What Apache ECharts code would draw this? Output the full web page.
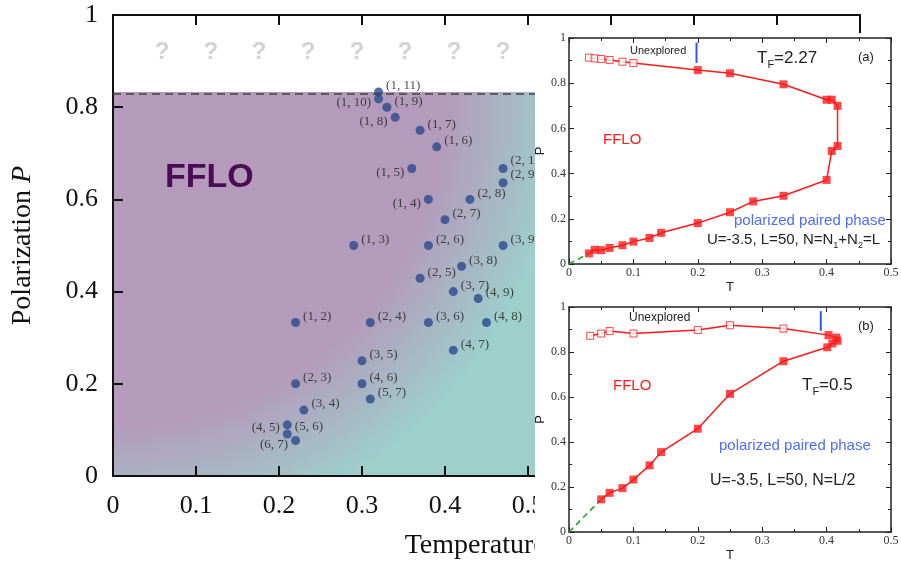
<!DOCTYPE html>
<html>
<head>
<meta charset="utf-8">
<script src="https://cdn.jsdelivr.net/npm/echarts@6/dist/echarts.min.js"></script>
<style>
  html, body { margin: 0; padding: 0; background: #fff; }
  #chart { width: 901px; height: 562px; }
</style>
</head>
<body>
<div id="chart"></div>
<script>
// main diagram: labelled (n, m) points
const pointNames = ['(1, 11)', '(1, 10)', '(1, 9)', '(1, 8)', '(1, 7)', '(1, 6)', '(1, 5)', '(1, 4)', '(1, 3)', '(1, 2)',
    '(2, 10)', '(2, 9)', '(2, 8)', '(2, 7)', '(2, 6)', '(2, 5)', '(2, 4)', '(2, 3)',
    '(3, 9)', '(3, 8)', '(3, 7)', '(3, 6)', '(3, 5)', '(3, 4)',
    '(4, 9)', '(4, 8)', '(4, 7)', '(4, 6)', '(4, 5)', '(5, 7)', '(5, 6)', '(6, 7)'];
const pointT = [0.32, 0.32, 0.33, 0.34, 0.37, 0.39, 0.36, 0.38, 0.29, 0.22,
    0.47, 0.47, 0.43, 0.40, 0.38, 0.37, 0.31, 0.22,
    0.47, 0.42, 0.41, 0.38, 0.30, 0.23,
    0.44, 0.45, 0.41, 0.30, 0.21, 0.31, 0.21, 0.22];
const pointP = [0.833, 0.818, 0.8, 0.778, 0.75, 0.714, 0.667, 0.6, 0.5, 0.333,
    0.667, 0.636, 0.6, 0.556, 0.5, 0.429, 0.333, 0.2,
    0.5, 0.455, 0.4, 0.333, 0.25, 0.143,
    0.385, 0.333, 0.273, 0.2, 0.111, 0.167, 0.091, 0.077];
const boundaryP = 0.833;
const questionT = [0.059, 0.118, 0.176, 0.235, 0.294, 0.352, 0.411, 0.47];
const questionP = 0.92;

// inset (a): T_F = 2.27
const aOpenT = [0.031, 0.04, 0.05, 0.063, 0.083, 0.1];
const aOpenP = [0.913, 0.91, 0.907, 0.903, 0.895, 0.889];
const aFilledT = [0.2, 0.25, 0.333, 0.4, 0.408, 0.417, 0.417, 0.408, 0.4, 0.333, 0.286, 0.25, 0.2, 0.143, 0.125, 0.1, 0.083, 0.063, 0.05, 0.04, 0.031];
const aFilledP = [0.858, 0.844, 0.795, 0.727, 0.727, 0.7, 0.522, 0.5, 0.372, 0.302, 0.277, 0.229, 0.181, 0.138, 0.115, 0.099, 0.083, 0.071, 0.061, 0.063, 0.047];
const aGuideT = [0, 0.031];
const aGuideP = [0, 0.047];
const aMarkT = [0.198, 0.198];
const aMarkP = [0.98, 0.89];

// inset (b): T_F = 0.5
const bOpenT = [0.033, 0.05, 0.063, 0.1, 0.2, 0.25, 0.333];
const bOpenP = [0.872, 0.882, 0.893, 0.882, 0.898, 0.919, 0.904];
const bFilledT = [0.403, 0.415, 0.417, 0.409, 0.401, 0.333, 0.25, 0.2, 0.143, 0.125, 0.1, 0.083, 0.063, 0.05];
const bFilledP = [0.875, 0.864, 0.85, 0.838, 0.821, 0.759, 0.614, 0.459, 0.355, 0.296, 0.233, 0.195, 0.174, 0.145];
const bGuideT = [0, 0.05];
const bGuideP = [0, 0.145];
const bMarkT = [0.391, 0.391];
const bMarkP = [0.982, 0.894];

// label placement for the main points (default: right, a bit up)
const labelLeft = {'(1, 10)': 4, '(1, 8)': 4, '(1, 5)': 4, '(1, 4)': 4, '(4, 5)': 3, '(6, 7)': 4};
const labelUp = {'(2, 9)': -8, '(2, 10)': -8, '(5, 6)': -7};

const serif = '"Liberation Serif", "Times New Roman", serif';
const sans = '"Liberation Sans", Arial, sans-serif';
const purple = '#b49abb';
const teal = '#9dcfcb';
const ink = '#111';

const zip = (xs, ys) => xs.map((x, i) => [x, ys[i]]);

const chart = echarts.init(document.getElementById('chart'));

const mainPoints = pointNames.map((name, i) => {
    const left = labelLeft[name];
    return {
        name,
        value: [pointT[i], pointP[i]],
        label: left !== undefined
            ? {position: 'left', offset: [0, left]}
            : {position: 'right', offset: [0, labelUp[name] !== undefined ? labelUp[name] : -6]},
    };
});

const fmt = (v) => String(+v.toFixed(2));

const mainAxisCommon = {
    type: 'value',
    gridIndex: 0,
    z: 3,
    axisLine: {show: true, onZero: false, lineStyle: {color: ink, width: 2}},
    axisTick: {show: true, inside: true, length: 10, lineStyle: {color: ink, width: 2}},
    splitLine: {show: false},
};
const titleRich = {
    n: {fontFamily: serif, fontSize: 28, color: ink},
    i: {fontFamily: serif, fontSize: 28, color: ink, fontStyle: 'italic'},
};

const insetAxes = (g) => {
    const common = {
        type: 'value',
        gridIndex: g,
        z: 20,
        axisLine: {show: true, onZero: false, lineStyle: {color: '#222', width: 1.5}},
        axisTick: {show: true, inside: true, length: 5, lineStyle: {color: '#222'}},
        minorTick: {show: true, splitNumber: 2, length: 3, lineStyle: {color: '#222'}},
        splitLine: {show: false},
        minorSplitLine: {show: false},
    };
    const lab = {fontFamily: serif, fontSize: 12, color: '#333'};
    return {
        x: [
            {...common, min: 0, max: 0.5, interval: 0.1, position: 'bottom',
                axisLabel: {...lab, margin: 3, formatter: fmt},
                name: 'T', nameLocation: 'middle', nameGap: 17,
                nameTextStyle: {fontFamily: sans, fontSize: 13, color: '#222'}},
            {...common, min: 0, max: 0.5, interval: 0.1, position: 'top', axisLabel: {show: false}},
        ],
        y: [
            {...common, min: 0, max: 1, interval: 0.2, position: 'left',
                axisLabel: {...lab, margin: 3, formatter: fmt},
                name: 'P', nameLocation: 'middle', nameGap: 20,
                nameTextStyle: {fontFamily: sans, fontSize: 13, color: '#222'}},
            {...common, min: 0, max: 1, interval: 0.2, position: 'right', axisLabel: {show: false}},
        ],
    };
};
const axA = insetAxes(1);
const axB = insetAxes(2);

const insetSeries = (xi, yi, openT, openP, filledT, filledP, guideT, guideP, markT, markP) => [
    {
        type: 'line', xAxisIndex: xi, yAxisIndex: yi, z: 20,
        data: zip(openT, openP).concat(zip(filledT, filledP)),
        showSymbol: false, lineStyle: {color: '#ff1a1a', width: 1.5},
    },
    {
        type: 'line', xAxisIndex: xi, yAxisIndex: yi, z: 20,
        data: zip(guideT, guideP), showSymbol: false,
        lineStyle: {color: '#20a020', width: 1.5, type: [6, 4]},
    },
    {
        type: 'line', xAxisIndex: xi, yAxisIndex: yi, z: 20,
        data: zip(markT, markP), showSymbol: false,
        lineStyle: {color: '#3355ee', width: 2},
    },
    {
        type: 'scatter', xAxisIndex: xi, yAxisIndex: yi, z: 21,
        data: zip(openT, openP), symbol: 'rect', symbolSize: 7,
        itemStyle: {color: '#fff', borderColor: '#ff1a1a', borderWidth: 1},
    },
    {
        type: 'scatter', xAxisIndex: xi, yAxisIndex: yi, z: 21,
        data: zip(filledT, filledP), symbol: 'rect', symbolSize: 8,
        itemStyle: {color: '#ff1a1a'},
    },
];

const txt = (text, left, top, font, fill, rich) => ({
    type: 'text', left, top, z: 30,
    style: {text, font, fill, rich},
});
const subRich = (size) => ({
    m: {fontFamily: sans, fontSize: size, lineHeight: size + 6, fill: '#222', color: '#222'},
    s: {fontFamily: sans, fontSize: Math.round(size * 0.62), lineHeight: Math.round(size * 0.62), verticalAlign: 'bottom', fill: '#222', color: '#222'},
});

const option = {
    animation: false,
    backgroundColor: '#fff',
    grid: [
        {left: 113, top: 15, right: 41, bottom: 86, outerBoundsMode: 'none'},
        {left: 569, top: 38, right: 10, bottom: 298, outerBoundsMode: 'none'},
        {left: 569, top: 307, right: 10, bottom: 30, outerBoundsMode: 'none'},
    ],
    xAxis: [
        {...mainAxisCommon, min: 0, max: 0.9, interval: 0.1, position: 'bottom',
            axisLabel: {fontFamily: serif, fontSize: 26, color: ink, margin: 17, formatter: fmt},
            name: '{n|Temperature }{i|T}', nameLocation: 'middle', nameGap: 56,
            nameTextStyle: {rich: titleRich}},
        {...mainAxisCommon, min: 0, max: 0.9, interval: 0.1, position: 'top', axisLabel: {show: false}},
        ...axA.x,
        ...axB.x,
    ],
    yAxis: [
        {...mainAxisCommon, min: 0, max: 1, interval: 0.2, position: 'left',
            axisLabel: {fontFamily: serif, fontSize: 26, color: ink, margin: 15, formatter: fmt},
            name: '{n|Polarization }{i|P}', nameLocation: 'middle', nameGap: 76,
            nameTextStyle: {rich: titleRich}},
        {...mainAxisCommon, min: 0, max: 1, interval: 0.2, position: 'right', axisLabel: {show: false}},
        ...axA.y,
        ...axB.y,
    ],
    series: [
        {
            type: 'scatter', xAxisIndex: 0, yAxisIndex: 0, z: 2,
            data: mainPoints,
            symbolSize: 9,
            itemStyle: {color: '#2b4a8e'},
            label: {show: true, formatter: '{b}', distance: 3, fontFamily: serif, fontSize: 13, color: '#222'},
            markArea: {
                silent: true,
                itemStyle: {
                    color: {
                        type: 'radial', x: 0, y: 0, r: 1.2,
                        colorStops: [
                            {offset: 0, color: purple},
                            {offset: 0.72, color: purple},
                            {offset: 0.98, color: teal},
                            {offset: 1, color: teal},
                        ],
                    },
                },
                data: [[{coord: [0, 0]}, {coord: [0.9, boundaryP]}]],
            },
            markLine: {
                silent: true, symbol: 'none', label: {show: false},
                lineStyle: {color: '#444', width: 1.5, type: [8, 5]},
                data: [{yAxis: boundaryP}],
            },
        },
        {
            type: 'scatter', xAxisIndex: 0, yAxisIndex: 0, z: 2,
            data: questionT.map(t => [t, questionP]),
            symbolSize: 0,
            label: {show: true, position: 'inside', formatter: '?', fontFamily: sans, fontWeight: 'bold', fontSize: 24, color: '#c8c8c8'},
        },
        ...insetSeries(2, 2, aOpenT, aOpenP, aFilledT, aFilledP, aGuideT, aGuideP, aMarkT, aMarkP),
        ...insetSeries(4, 4, bOpenT, bOpenP, bFilledT, bFilledP, bGuideT, bGuideP, bMarkT, bMarkP),
    ],
    graphic: [
        // white panel holding the two insets
        {type: 'rect', left: 535, top: 33, z: 10, shape: {width: 366, height: 529}, style: {fill: '#fff'}},
        {type: 'text', left: 165, top: 161, z: 5,
            style: {text: 'FFLO', font: 'bold 34px ' + sans, fill: '#4b0b58'}},
        txt('Unexplored', 630, 45, '11px ' + sans, '#222'),
        txt('{m|T}{s|F}{m|=2.27}', 757, 50, '17px ' + sans, '#222', subRich(17)),
        txt('(a)', 858, 51, '13px ' + sans, '#222'),
        txt('FFLO', 603, 132, '15px ' + sans, '#ff1a1a'),
        txt('polarized paired phase', 734, 213, '15px ' + sans, '#4e6ef5'),
        txt('{m|U=-3.5, L=50, N=N}{s|1}{m|+N}{s|2}{m|=L}', 707, 232, '15px ' + sans, '#222', subRich(15)),
        txt('Unexplored', 629, 312, '12px ' + sans, '#222'),
        txt('(b)', 858, 320, '13px ' + sans, '#222'),
        txt('FFLO', 613, 378, '15px ' + sans, '#ff1a1a'),
        txt('{m|T}{s|F}{m|=0.5}', 802, 377, '17px ' + sans, '#222', subRich(17)),
        txt('polarized paired phase', 719, 438, '15px ' + sans, '#4e6ef5'),
        txt('U=-3.5, L=50, N=L/2', 710, 473, '16px ' + sans, '#222'),
    ],
};

chart.setOption(option);
</script>
</body>
</html>
